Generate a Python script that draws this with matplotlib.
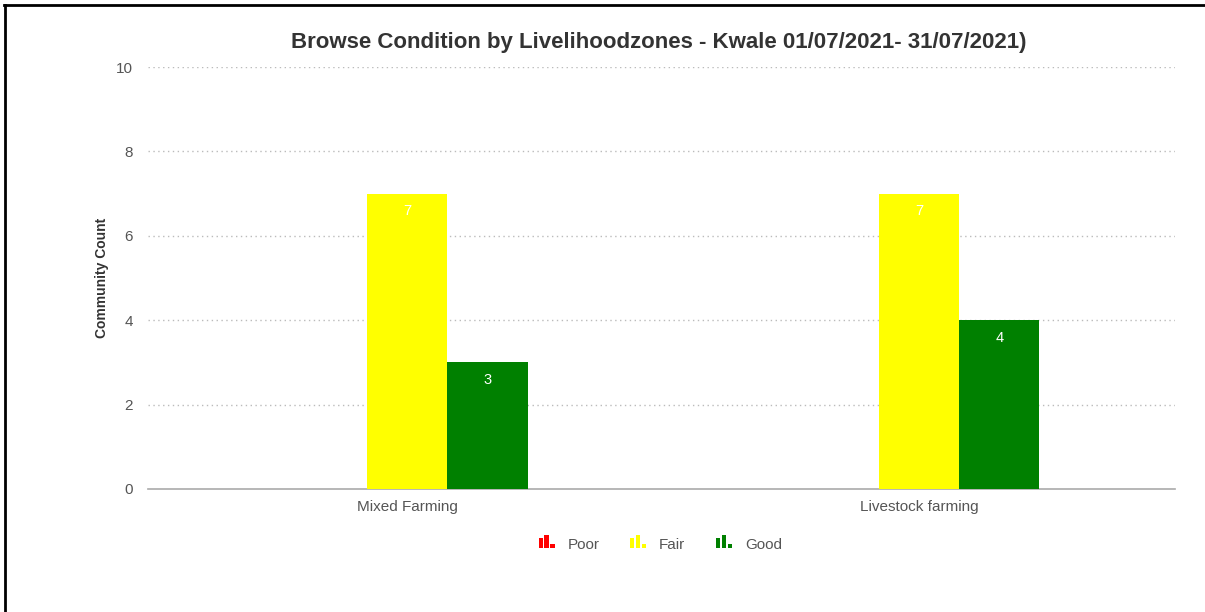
import numpy as np
import matplotlib.pyplot as plt
from matplotlib.patches import Rectangle
from matplotlib.legend_handler import HandlerBase
from matplotlib.lines import Line2D

plt.rcParams['font.family'] = ['Liberation Sans', 'DejaVu Sans']

zones = ['Mixed Farming', 'Livestock farming']
conditions = ['Poor', 'Fair', 'Good']
poor = [0, 0]
fair = [7, 7]
good = [3, 4]
colors = ['#ff0000', '#ffff00', '#008000']


class BarIcon(HandlerBase):
    # little three-bar icon used as legend key
    def create_artists(self, legend, orig, xd, yd, w, h, fontsize, trans):
        c = orig.get_facecolor()
        bw = w / 4.0
        hs = [0.75, 1.0, 0.35]
        arts = []
        for i, f in enumerate(hs):
            r = Rectangle((xd + i * bw * 1.4, yd - 1), bw, h * f, facecolor=c,
                          edgecolor='none', transform=trans)
            arts.append(r)
        return arts


fig = plt.figure(figsize=(12.05, 6.12), dpi=100)
ax = fig.add_axes([0.1228, 0.201, 0.8522, 0.6895])

x = np.arange(len(zones))
w = 0.157
series = [poor, fair, good]
bars = []
for i, vals in enumerate(series):
    b = ax.bar(x + (i - 1) * w, vals, w, color=colors[i], label=conditions[i], zorder=3)
    bars.append(b)
    for rect, v in zip(b, vals):
        if v > 0:
            ax.text(rect.get_x() + rect.get_width() / 2, v - 0.25, str(v),
                    ha='center', va='top', color='white', fontsize=10.5, zorder=4)

ax.set_xlim(-0.506, 1.5)
ax.set_ylim(0, 10)
ax.set_yticks([0, 2, 4, 6, 8, 10])
ax.set_xticks(x)
ax.set_xticklabels(zones)
ax.tick_params(length=0, colors='#555555', labelsize=11)
ax.tick_params(axis='y', pad=11)
ax.tick_params(axis='x', pad=8)
for g in [2, 4, 6, 8, 10]:
    ax.axhline(g, color='#bbbbbb', lw=1, ls=(0, (1, 2.5)), zorder=1)
for s in ['top', 'right', 'left']:
    ax.spines[s].set_visible(False)
ax.spines['bottom'].set_color('#aaaaaa')
ax.spines['bottom'].set_linewidth(1.2)

ax.set_ylabel('Community Count', fontsize=10, fontweight='bold', color='#333333', labelpad=5)
fig.text(0.547, 0.931, 'Browse Condition by Livelihoodzones - Kwale 01/07/2021- 31/07/2021)',
         ha='center', va='center', fontsize=16, fontweight='bold', color='#333333')

leg = ax.legend(handles=[b.patches[0] for b in bars], labels=conditions,
                handler_map={type(bars[0].patches[0]): BarIcon()},
                loc='center', bbox_to_anchor=(0.548, 0.111), bbox_transform=fig.transFigure,
                ncol=3, frameon=False, fontsize=11, handlelength=1.1, handleheight=1.0,
                handletextpad=0.8, columnspacing=2.0)
for t in leg.get_texts():
    t.set_color('#555555')

# frame lines on top and left edges
fig.add_artist(Line2D([0.004, 0.004], [0, 0.992], transform=fig.transFigure, color='black', lw=2))
fig.add_artist(Line2D([0.003, 1], [0.992, 0.992], transform=fig.transFigure, color='black', lw=2))

fig.savefig('out.png', dpi=100)
